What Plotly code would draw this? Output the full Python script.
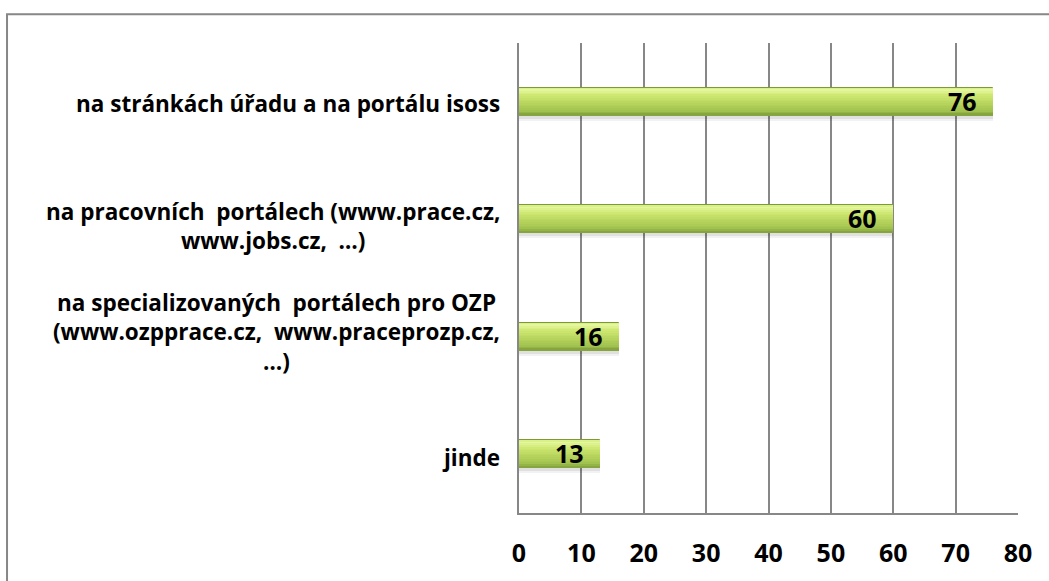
import plotly.graph_objects as go

# Categories (top to bottom) and their values
categories = [
    "na stránkách úřadu a na portálu isoss",
    "na pracovních  portálech (www.prace.cz,<br>www.jobs.cz,  …)",
    "na specializovaných  portálech pro OZP<br>(www.ozpprace.cz,  www.praceprozp.cz,<br>…)",
    "jinde",
]
values = [76, 60, 16, 13]
x_ticks = [0, 10, 20, 30, 40, 50, 60, 70, 80]

FONT = "Open Sans"
GRID = "#878787"
BAR_W = 0.236
half = BAR_W / 2
# small vertical nudges of the wrapped category labels (px, up = positive)
LABEL_NUDGE = [-2, -7, 5, -3]


def hex_to_rgb(h):
    h = h.lstrip("#")
    return tuple(int(h[i:i + 2], 16) for i in (0, 2, 4))


def blend(stops, t):
    """Colour at fraction t along a list of (position, hex) stops."""
    for (p0, c0), (p1, c1) in zip(stops, stops[1:]):
        if p0 <= t <= p1:
            f = (t - p0) / (p1 - p0) if p1 > p0 else 0
            a, b = hex_to_rgb(c0), hex_to_rgb(c1)
            r, g, bl = (round(a[i] + (b[i] - a[i]) * f) for i in range(3))
            return f"rgb({r},{g},{bl})"
    return stops[-1][1]


# vertical gradient of the bevelled green bars, top to bottom
gradient = [
    (0.00, "#d2ec7c"),
    (0.08, "#e6f8a0"),
    (0.30, "#cde770"),
    (0.60, "#b5d35c"),
    (0.85, "#a2c24f"),
    (1.00, "#7f9d3a"),
]
N_BANDS = 16

fig = go.Figure()

# soft drop shadow under each bar
for k, alpha in enumerate([0.05, 0.07]):
    fig.add_trace(go.Bar(
        y=categories, x=values, orientation="h",
        width=BAR_W + 0.03 - 0.015 * k, offset=-half + 0.012,
        marker=dict(color=f"rgba(0,0,0,{alpha})", line=dict(width=0)),
        hoverinfo="skip", showlegend=False,
    ))

# bar outline / body
fig.add_trace(go.Bar(
    y=categories, x=values, orientation="h",
    width=BAR_W, offset=-half,
    marker=dict(color="#a9c955", line=dict(width=1, color="#7c9a38")),
    hoverinfo="skip", showlegend=False,
))
# gradient bands
for i in range(N_BANDS):
    t0, t1 = i / N_BANDS, (i + 1) / N_BANDS
    inset = 0.004
    fig.add_trace(go.Bar(
        y=categories, x=values, orientation="h",
        width=BAR_W * (t1 - t0) + 0.001,
        offset=-half + BAR_W * t0 + (inset if i == 0 else 0),
        marker=dict(color=blend(gradient, (t0 + t1) / 2), line=dict(width=0)),
        hoverinfo="skip", showlegend=False,
    ))

annotations = []
# value labels near the end of each bar
for cat, v in zip(categories, values):
    annotations.append(dict(
        x=v, y=cat, xref="x", yref="y", text=str(v),
        xanchor="right", yanchor="middle", xshift=-14, yshift=1, showarrow=False,
        font=dict(family=FONT, size=25, color="#000000", weight="bold"),
    ))
# centred multi-line category labels left of the axis
for cat, nudge in zip(categories, LABEL_NUDGE):
    annotations.append(dict(
        x=0, y=cat, xref="paper", yref="y", text=cat,
        xanchor="right", yanchor="middle", xshift=-17, yshift=nudge,
        showarrow=False, align="center",
        font=dict(family=FONT, size=22.5, color="#000000", weight="bold"),
    ))

fig.update_layout(
    width=1049, height=581,
    margin=dict(l=519, r=31, t=43, b=63, pad=0),
    paper_bgcolor="white", plot_bgcolor="white",
    barmode="overlay", bargap=0,
    showlegend=False,
    annotations=annotations,
    shapes=[dict(
        type="rect", xref="paper", yref="paper",
        x0=-1.026, x1=1.3, y0=-0.4, y1=1.061,
        line=dict(color="#878787", width=2), layer="below",
    )],
    xaxis=dict(
        range=[0, 80], tickvals=x_ticks, ticktext=[str(t) for t in x_ticks],
        showgrid=True, gridcolor=GRID, gridwidth=2,
        showline=True, linecolor=GRID, linewidth=2,
        zeroline=False, ticks="", ticklabelstandoff=17,
        tickfont=dict(family=FONT, size=25, color="#000000", weight="bold"),
        fixedrange=True,
    ),
    yaxis=dict(
        categoryorder="array", categoryarray=categories,
        autorange="reversed", showticklabels=False,
        showgrid=False, showline=True, linecolor=GRID, linewidth=2,
        zeroline=False, ticks="", fixedrange=True,
    ),
)

fig.write_html("out.html")
